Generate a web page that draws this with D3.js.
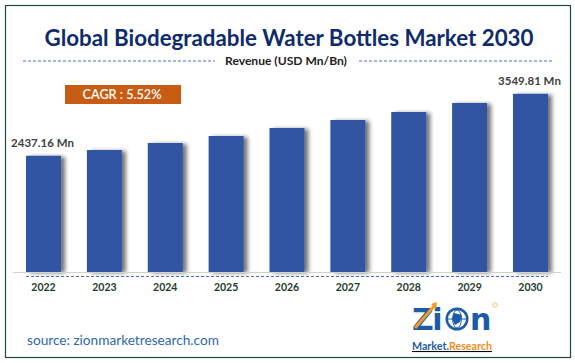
<!DOCTYPE html>
<html>
<head>
<meta charset="utf-8">
<script src="https://cdn.jsdelivr.net/npm/d3@7"></script>
<style>
  body { margin: 0; background: #fff; }
  svg { display: block; }
  text { font-family: Lato, "Open Sans", sans-serif; }
</style>
</head>
<body>
<script>
// data
const years = ["2022", "2023", "2024", "2025", "2026", "2027", "2028", "2029", "2030"];
const revenue = [2437.16, 2540, 2666, 2792, 2936, 3079, 3223, 3385, 3549.81];
const labelled = { "2022": "2437.16 Mn", "2030": "3549.81 Mn" };
const cagr = "CAGR : 5.52%";

const width = 575;
const height = 363;

const svg = d3.select("body").append("svg")
    .attr("width", width)
    .attr("height", height);

// shrink/grow a text's font so it spans the wanted width
function fit(sel, w) {
    const fs = parseFloat(sel.style("font-size"));
    const len = sel.node().getComputedTextLength();
    sel.style("font-size", (fs * w / len).toFixed(2) + "px");
    return sel;
}

const defs = svg.append("defs");
const shadow = defs.append("filter").attr("id", "shadow")
    .attr("x", "-20%").attr("y", "-10%").attr("width", "160%").attr("height", "130%");
shadow.append("feOffset").attr("in", "SourceAlpha").attr("dx", 4).attr("dy", 1).attr("result", "off");
shadow.append("feGaussianBlur").attr("in", "off").attr("stdDeviation", 2).attr("result", "blur");
shadow.append("feComponentTransfer").attr("in", "blur").attr("result", "soft")
    .append("feFuncA").attr("type", "linear").attr("slope", 0.55);
const merge = shadow.append("feMerge");
merge.append("feMergeNode").attr("in", "soft");
merge.append("feMergeNode").attr("in", "SourceGraphic");

// frame
svg.append("rect")
    .attr("x", 5.5).attr("y", 5.5)
    .attr("width", 565).attr("height", 352)
    .attr("fill", "#fff")
    .attr("stroke", "#1f4a38")
    .attr("stroke-width", 1.2);

// title
fit(svg.append("text")
    .attr("x", 289).attr("y", 46)
    .attr("text-anchor", "middle")
    .style("font-size", "22px")
    .style("font-weight", "bold")
    .attr("fill", "#0f2b6b")
    .text("Global Biodegradable Water Bottles Market 2030"), 489);

// subtitle with dashed rules
fit(svg.append("text")
    .attr("x", 286).attr("y", 65)
    .attr("text-anchor", "middle")
    .style("font-size", "11px")
    .style("font-weight", "bold")
    .attr("fill", "#222")
    .text("Revenue (USD Mn/Bn)"), 122);

svg.selectAll(".rule")
    .data([[23, 215], [359, 552]])
    .join("line")
    .attr("x1", d => d[0]).attr("x2", d => d[1])
    .attr("y1", 61).attr("y2", 61)
    .attr("stroke", "#4472c4")
    .attr("stroke-width", 1)
    .attr("stroke-dasharray", "3,2");

// scales
const x = d3.scaleBand()
    .domain(years)
    .range([13, 561])
    .paddingInner(0.425)
    .paddingOuter(0.214);

const y = d3.scaleLinear()
    .domain([350, 3600])
    .range([272, 91]);

// CAGR badge
svg.append("rect")
    .attr("x", 65).attr("y", 85)
    .attr("width", 116).attr("height", 19)
    .attr("fill", "#c85c12");
fit(svg.append("text")
    .attr("x", 122).attr("y", 99)
    .attr("text-anchor", "middle")
    .style("font-size", "13px")
    .style("font-weight", "600")
    .attr("fill", "#fff")
    .text(cagr), 79);

// bars
svg.append("g")
    .selectAll("rect")
    .data(years)
    .join("rect")
    .attr("x", d => x(d))
    .attr("y", (d, i) => y(revenue[i]))
    .attr("width", x.bandwidth())
    .attr("height", (d, i) => y(350) - y(revenue[i]))
    .attr("fill", "#3054a3")
    .attr("filter", "url(#shadow)");

// end labels
svg.append("g")
    .selectAll("text")
    .data(years.filter(d => labelled[d]))
    .join("text")
    .attr("x", d => x(d) + x.bandwidth() / 2 - 1)
    .attr("y", d => y(revenue[years.indexOf(d)]) - 9)
    .attr("text-anchor", "middle")
    .style("font-size", "11.5px")
    .style("font-weight", "bold")
    .attr("fill", "#404040")
    .text(d => labelled[d]);

// axis line + dashed rule under it
svg.append("line")
    .attr("x1", 13).attr("x2", 561)
    .attr("y1", 272.5).attr("y2", 272.5)
    .attr("stroke", "#d0d0d0");
svg.append("line")
    .attr("x1", 26).attr("x2", 548)
    .attr("y1", 276.5).attr("y2", 276.5)
    .attr("stroke", "#4472c4")
    .attr("stroke-dasharray", "3,2");

const xAxis = svg.append("g")
    .attr("transform", "translate(0,278)")
    .call(d3.axisBottom(x).tickSize(0).tickPadding(6));
xAxis.select(".domain").remove();
xAxis.selectAll("text")
    .style("font-family", "Lato, 'Open Sans', sans-serif")
    .style("font-size", "10.5px")
    .style("font-weight", "bold")
    .attr("fill", "#1c3d2c");

// source
fit(svg.append("text")
    .attr("x", 27).attr("y", 345)
    .style("font-size", "13px")
    .attr("fill", "#2f68a8")
    .text("source: zionmarketresearch.com"), 192);

// logo
const logo = svg.append("g").attr("transform", "translate(412,301)");
logo.append("text")
    .attr("x", 0).attr("y", 29)
    .style("font-size", "30px")
    .style("font-weight", "900")
    .style("font-family", "'DejaVu Sans', sans-serif")
    .attr("fill", "#1b5ba8")
    .attr("letter-spacing", -1.5)
    .text("Zi");
logo.append("path")
    .attr("d", "M3,27 L23,4")
    .attr("stroke", "#f39c1f").attr("stroke-width", 3);
logo.append("path")
    .attr("d", "M19,3 L25,1 L24,8 Z")
    .attr("fill", "#f39c1f");
const globe = logo.append("g").attr("transform", "translate(45,18)");
globe.append("circle").attr("r", 11.5).attr("fill", "#1b5ba8");
globe.append("circle").attr("r", 9).attr("fill", "#fff");
globe.append("ellipse").attr("rx", 4.3).attr("ry", 9).attr("fill", "none").attr("stroke", "#1b5ba8").attr("stroke-width", 1);
globe.append("line").attr("x1", -9).attr("x2", 9).attr("stroke", "#1b5ba8");
globe.append("path").attr("d", "M-3,-6 L5,-4 L3,3 L-2,6 L-5,0 Z").attr("fill", "#1b5ba8");
logo.append("text")
    .attr("x", 58).attr("y", 29)
    .style("font-size", "30px")
    .style("font-weight", "900")
    .style("font-family", "'DejaVu Sans', sans-serif")
    .attr("fill", "#1b5ba8")
    .text("n");
logo.append("circle")
    .attr("cx", 83).attr("cy", 4).attr("r", 2.2)
    .attr("fill", "none").attr("stroke", "#f39c1f").attr("stroke-width", 0.6);
const sub = logo.append("text")
    .attr("x", 0).attr("y", 49)
    .style("font-size", "11px")
    .style("font-weight", "bold")
    .attr("text-decoration", "underline");
sub.append("tspan").attr("fill", "#1b5ba8").text("Market.");
sub.append("tspan").attr("fill", "#f08c1a").text("Research");
fit(sub, 80);
</script>
</body>
</html>
